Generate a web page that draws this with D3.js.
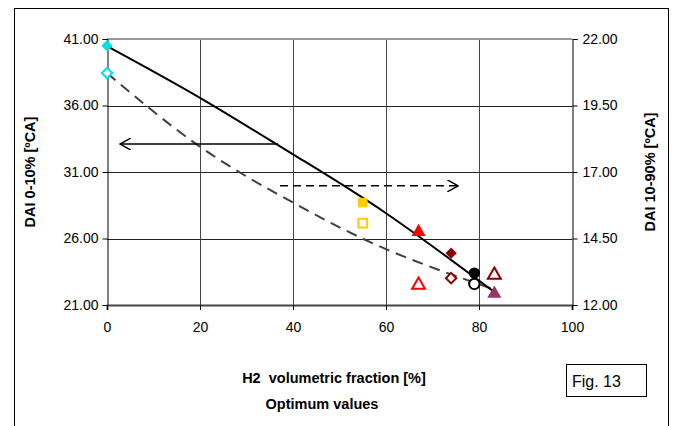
<!DOCTYPE html>
<html>
<head>
<meta charset="utf-8">
<script src="https://cdn.jsdelivr.net/npm/d3@7"></script>
<style>
  body { margin: 0; background: #fff; }
  svg text { font-family: Arial, "Liberation Sans", sans-serif; fill: #000; white-space: pre; }
</style>
</head>
<body>
<svg width="674" height="426"></svg>
<script>
// H2 fraction of each optimum point
const h2 = [0, 55, 67, 74, 79, 83.3];
// DAI 0-10% (left axis) -> filled markers
const dai010 = [40.5, 28.7, 26.5, 24.9, 23.4, 21.85];
// DAI 10-90% (right axis) -> hollow markers
const dai1090 = [20.72, 15.08, 12.75, 13.01, 12.79, 13.13];
const shapes = ["diamond", "square", "triangle", "diamond", "circle", "triangle"];
const fillCols = ["#00e0e8", "#ffcc00", "#ff0000", "#8b0000", "#000000", "#993366"];
const lineCols = ["#00e0e8", "#ffcc00", "#ff0000", "#8b0000", "#000000", "#8b0000"];

// trend lines
const trendX = [0, 20, 40, 60, 83];
const trend010 = [40.47, 36.58, 32.33, 27.9, 22.05];
const trend1090 = [20.72, 17.95, 15.85, 14.1, 12.6];

const xTicks = [0, 20, 40, 60, 80, 100];
const leftTicks = [21, 26, 31, 36, 41];
const rightTicks = [12, 14.5, 17, 19.5, 22];

const svg = d3.select("svg");
const pl = 107, pr = 572, pt = 39, pb = 305;

const x = d3.scaleLinear().domain([0, 100]).range([pl, pr]);
const yL = d3.scaleLinear().domain([21, 41]).range([pb, pt]);
const yR = d3.scaleLinear().domain([12, 22]).range([pb, pt]);

// outer frame
svg.append("rect").attr("x", 14.5).attr("y", 8.5).attr("width", 654).attr("height", 440)
  .attr("fill", "none").attr("stroke", "#000");

// grid
svg.append("g").selectAll("line").data(leftTicks.filter(d => d > 21 && d < 41)).join("line")
  .attr("x1", pl).attr("x2", pr)
  .attr("y1", d => Math.round(yL(d)) + 0.5).attr("y2", d => Math.round(yL(d)) + 0.5)
  .attr("stroke", "#222");
svg.append("g").selectAll("line").data(xTicks.filter(d => d > 0 && d < 100)).join("line")
  .attr("x1", d => Math.round(x(d)) + 0.5).attr("x2", d => Math.round(x(d)) + 0.5)
  .attr("y1", pt).attr("y2", pb + 5)
  .attr("stroke", "#444");
// top border of plot
svg.append("line").attr("x1", pl).attr("x2", pr).attr("y1", pt).attr("y2", pt)
  .attr("stroke", "#999").attr("stroke-width", 2);

// axes
const gl = svg.append("g").attr("transform", `translate(${pl + 0.5},0)`)
  .call(d3.axisLeft(yL).tickValues(leftTicks).tickFormat(d3.format(".2f")).tickSize(5).tickPadding(4));
const gr = svg.append("g").attr("transform", `translate(${pr + 0.5},0)`)
  .call(d3.axisRight(yR).tickValues(rightTicks).tickFormat(d3.format(".2f")).tickSize(5).tickPadding(5));
const gb = svg.append("g").attr("transform", `translate(0,${pb})`)
  .call(d3.axisBottom(x).tickValues(xTicks).tickSize(5).tickPadding(12));
[gl, gr, gb].forEach(g => {
  g.selectAll("text").style("font-size", "14px").attr("font-family", null);
  g.select(".domain").attr("stroke", "#000");
  g.selectAll(".tick line").attr("stroke", "#000");
});
gb.select(".domain").attr("stroke", "#444").attr("stroke-width", 2);

// trend lines
const line010 = d3.line().x(d => x(d[0])).y(d => yL(d[1])).curve(d3.curveNatural);
const line1090 = d3.line().x(d => x(d[0])).y(d => yR(d[1])).curve(d3.curveNatural);
svg.append("path").attr("d", line1090(trendX.map((v, i) => [v, trend1090[i]])))
  .attr("fill", "none").attr("stroke", "#404040").attr("stroke-width", 2)
  .attr("stroke-dasharray", "11,7");
svg.append("path").attr("d", line010(trendX.map((v, i) => [v, trend010[i]])))
  .attr("fill", "none").attr("stroke", "#000").attr("stroke-width", 2);

// arrows
svg.append("defs").selectAll("marker").data(["head"]).join("marker")
  .attr("id", "head").attr("viewBox", "0 0 10 10").attr("refX", 9).attr("refY", 5)
  .attr("markerWidth", 8).attr("markerHeight", 8).attr("orient", "auto-start-reverse")
  .append("path").attr("d", "M0,0L9,5L0,10").attr("fill", "none").attr("stroke", "#000").attr("stroke-width", 1.2);
svg.append("line").attr("x1", x(36.8)).attr("x2", x(2.8)).attr("y1", yL(33.1)).attr("y2", yL(33.1))
  .attr("stroke", "#000").attr("stroke-width", 1.5).attr("marker-end", "url(#head)");
svg.append("line").attr("x1", x(37.2)).attr("x2", x(75.5)).attr("y1", yR(16.48)).attr("y2", yR(16.48))
  .attr("stroke", "#000").attr("stroke-width", 1.5).attr("stroke-dasharray", "8,5")
  .attr("marker-end", "url(#head)");

// markers (diamond = square turned 45 degrees)
const sym = { diamond: d3.symbolSquare, square: d3.symbolSquare, triangle: d3.symbolTriangle, circle: d3.symbolCircle };
const size = { diamond: 64, square: 90, triangle: 85, circle: 100 };
const rot = s => (s === "diamond" ? " rotate(45)" : "");
svg.append("g").selectAll("path").data(h2).join("path")
  .attr("transform", (d, i) => `translate(${x(d)},${yR(dai1090[i])})${rot(shapes[i])}`)
  .attr("d", (d, i) => d3.symbol(sym[shapes[i]], size[shapes[i]] * 0.85)())
  .attr("fill", "#fff").attr("stroke", (d, i) => lineCols[i]).attr("stroke-width", 2);
svg.append("g").selectAll("path").data(h2).join("path")
  .attr("transform", (d, i) => `translate(${x(d)},${yL(dai010[i])})${rot(shapes[i])}`)
  .attr("d", (d, i) => d3.symbol(sym[shapes[i]], size[shapes[i]])())
  .attr("fill", (d, i) => fillCols[i]);

// titles
const bold = t => t.style("font-size", "14.5px").style("font-weight", "bold").attr("text-anchor", "middle");
svg.append("text").attr("transform", "translate(35,172) rotate(-90)").call(bold).text("DAI 0-10% [ºCA]");
svg.append("text").attr("transform", "translate(655,172) rotate(-90)").call(bold).text("DAI 10-90% [ºCA]");
svg.append("text").attr("x", 334).attr("y", 383).call(bold).text("H2  volumetric fraction [%]");
svg.append("text").attr("x", 322).attr("y", 409).call(bold).text("Optimum values");

svg.append("rect").attr("x", 566.5).attr("y", 364.5).attr("width", 80).attr("height", 32)
  .attr("fill", "#fff").attr("stroke", "#000");
svg.append("text").attr("x", 572).attr("y", 387).style("font-size", "16px").text("Fig. 13");
</script>
</body>
</html>
